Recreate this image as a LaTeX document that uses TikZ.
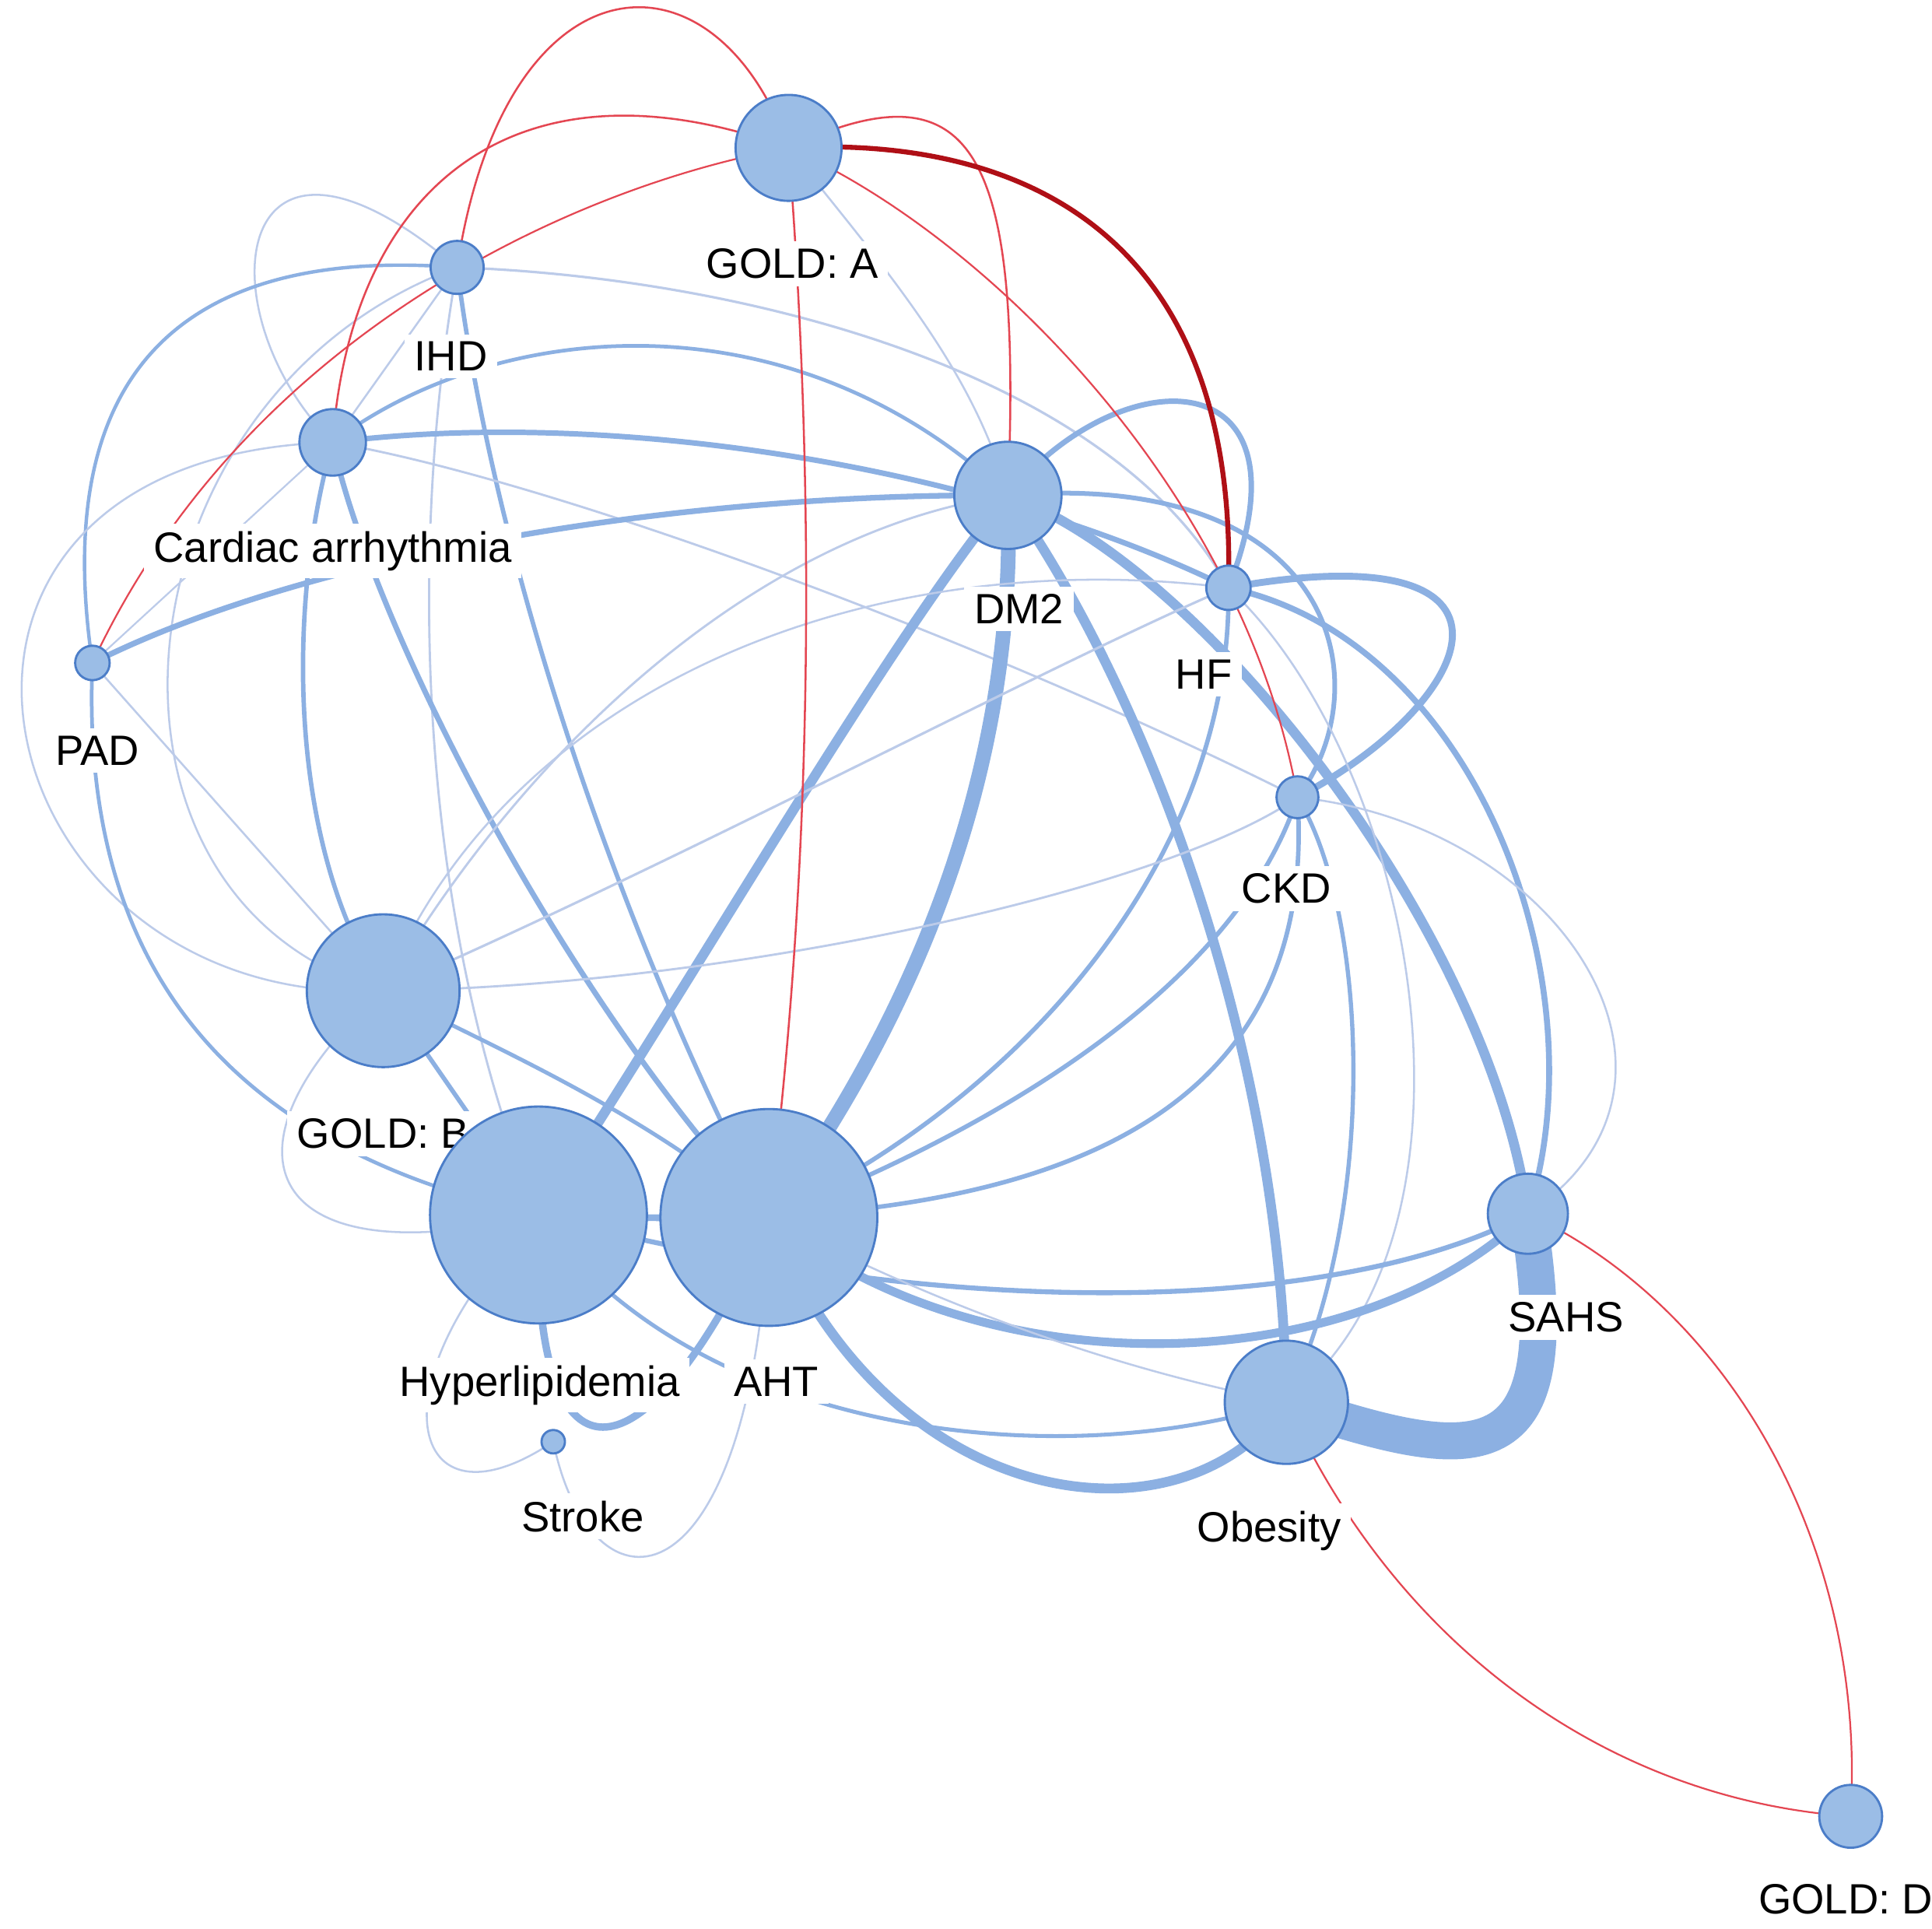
\documentclass[tikz,border=0pt]{standalone}
\usepackage{fontspec}
\setmainfont{Liberation Sans}
\usetikzlibrary{backgrounds}
\pgfdeclarelayer{bg}
\pgfsetlayers{bg,background,main}
\definecolor{nfill}{RGB}{155,189,230}
\definecolor{ndraw}{RGB}{75,125,200}
\definecolor{emain}{RGB}{140,176,226}
\definecolor{elight}{RGB}{188,203,233}
\definecolor{ered}{RGB}{228,70,82}
\definecolor{edark}{RGB}{175,15,22}
\begin{document}
\begin{tikzpicture}[x=0.5pt,y=-0.5pt,
  nd/.style={circle,draw=ndraw,fill=nfill,line width=0.9pt,inner sep=0pt,minimum size=#1},
  lab/.style={fill=white,inner xsep=4pt,inner ysep=3pt,anchor=base,text=black,font=\fontsize{17.2}{20}\selectfont},
  edge/.style={draw=emain,line cap=round,line width=#1},
  ledge/.style={draw=elight,line cap=round,line width=#1},
  redge/.style={draw=ered,line cap=round,line width=#1}]
\begin{pgfonlayer}{bg}
\fill[white] (0,0) rectangle (1568,1565);
\end{pgfonlayer}
\useasboundingbox (0,0) rectangle (1568,1565);
% labels
\node[lab] (lA) at (643,226) {GOLD: A};
\node[lab] (lIHD) at (366,301) {IHD};
\node[lab] (lCA) at (270,456) {Cardiac arrhythmia};
\node[lab] (lDM2) at (827,506) {DM2};
\node[lab] (lHF) at (977,559) {HF};
\node[lab] (lPAD) at (79,621) {PAD};
\node[lab] (lCKD) at (1044,733) {CKD};
\node[lab] (lB) at (311,932) {GOLD: B};
\node[lab] (lHL) at (438,1133) {Hyperlipidemia};
\node[lab] (lAHT) at (630,1133) {AHT};
\node[lab] (lSAHS) at (1271,1081) {SAHS};
\node[lab] (lOB) at (1030,1251) {Obesity};
\node[lab] (lST) at (473,1243) {Stroke};
\node[lab] (lD) at (1498,1553) {GOLD: D};
% nodes
\node[nd=43pt] (A) at (640,120) {};
\node[nd=21.5pt] (IHD) at (371,217) {};
\node[nd=27pt] (CA) at (270,359) {};
\node[nd=43.5pt] (DM2) at (818,402) {};
\node[nd=18pt] (HF) at (997,477) {};
\node[nd=14pt] (PAD) at (75,538) {};
\node[nd=17pt] (CKD) at (1053,647) {};
\node[nd=62pt] (B) at (311,804) {};
\node[nd=88pt] (HL) at (437,986) {};
\node[nd=88pt] (AHT) at (624,988) {};
\node[nd=32.5pt] (SAHS) at (1240,985) {};
\node[nd=50pt] (OB) at (1044,1138) {};
\node[nd=9.5pt] (ST) at (449,1170) {};
\node[nd=25.5pt] (D) at (1502,1474) {};
% edges
\begin{scope}[on background layer]
\draw[ledge=0.8pt] (IHD.center) .. controls (185,60) and (165,255) .. (CA.center);
\draw[ledge=0.8pt] (IHD.center) -- (CA.center);
\draw[edge=1.4pt] (IHD.center) .. controls (150,200) and (40,300) .. (PAD.center);
\draw[ledge=0.9pt] (IHD.center) .. controls (330,450) and (340,750) .. (HL.center);
\draw[edge=1.8pt] (IHD.center) .. controls (400,450) and (500,750) .. (AHT.center);
\draw[ledge=1.0pt] (IHD.center) .. controls (600,225) and (900,300) .. (HF.center);
\draw[ledge=0.8pt] (IHD.center) .. controls (90,320) and (50,730) .. (B.center);
\draw[edge=2.2pt] (CA.center) .. controls (500,330) and (800,380) .. (HF.center);
\draw[edge=1.5pt] (CA.center) .. controls (400,260) and (640,235) .. (DM2.center);
\draw[edge=1.8pt] (CA.center) .. controls (235,480) and (230,680) .. (B.center);
\draw[edge=2.2pt] (CA.center) .. controls (300,500) and (450,800) .. (AHT.center);
\draw[ledge=0.9pt] (CA.center) .. controls (450,390) and (800,520) .. (CKD.center);
\draw[ledge=0.8pt] (CA.center) .. controls (-120,370) and (-20,820) .. (B.center);
\draw[ledge=0.7pt] (CA.center) -- (PAD.center);
\draw[edge=2.3pt] (PAD.center) .. controls (250,450) and (550,400) .. (DM2.center);
\draw[edge=1.5pt] (PAD.center) .. controls (65,780) and (180,930) .. (HL.center);
\draw[ledge=0.8pt] (PAD.center) -- (B.center);
\draw[edge=4pt] (DM2.center) .. controls (720,520) and (560,800) .. (HL.center);
\draw[edge=6pt] (DM2.center) .. controls (825,600) and (760,800) .. (AHT.center);
\draw[edge=4pt] (DM2.center) .. controls (930,560) and (1040,850) .. (OB.center);
\draw[edge=2.2pt] (DM2.center) .. controls (910,290) and (1070,290) .. (HF.center);
\draw[edge=4pt] (DM2.center) .. controls (980,460) and (1210,760) .. (SAHS.center);
\draw[edge=1.9pt] (DM2.center) .. controls (1090,380) and (1120,560) .. (CKD.center);
\draw[ledge=0.8pt] (A.center) .. controls (720,220) and (790,300) .. (DM2.center);
\draw[ledge=0.9pt] (B.center) .. controls (430,600) and (620,430) .. (DM2.center);
\draw[edge=2.8pt] (HF.center) .. controls (1260,430) and (1200,570) .. (CKD.center);
\draw[edge=2.4pt] (HF.center) .. controls (1200,520) and (1300,800) .. (SAHS.center);
\draw[edge=1.8pt] (HF.center) .. controls (1000,680) and (850,880) .. (AHT.center);
\draw[ledge=1.0pt] (B.center) .. controls (550,700) and (850,540) .. (HF.center);
\draw[ledge=0.8pt] (B.center) .. controls (410,560) and (700,440) .. (HF.center);
\draw[ledge=0.8pt] (HF.center) .. controls (1150,620) and (1220,1000) .. (OB.center);
\draw[edge=1.8pt] (CKD.center) .. controls (1010,780) and (850,900) .. (AHT.center);
\draw[edge=1.8pt] (CKD.center) .. controls (1070,900) and (870,1010) .. (HL.center);
\draw[ledge=0.9pt] (CKD.center) .. controls (950,720) and (600,800) .. (B.center);
\draw[ledge=0.8pt] (CKD.center) .. controls (1270,670) and (1400,880) .. (SAHS.center);
\draw[edge=1.7pt] (CKD.center) .. controls (1110,740) and (1120,980) .. (OB.center);
\draw[edge=3.5pt] (AHT.center) .. controls (800,1130) and (1100,1120) .. (SAHS.center);
\draw[edge=2pt] (HL.center) .. controls (800,1080) and (1100,1060) .. (SAHS.center);
\draw[edge=4pt] (AHT.center) .. controls (720,1230) and (960,1260) .. (OB.center);
\draw[ledge=0.8pt] (AHT.center) .. controls (800,1080) and (950,1120) .. (OB.center);
\draw[edge=1.6pt] (HL.center) .. controls (560,1160) and (850,1200) .. (OB.center);
\draw[edge=1.5pt] (HL.center) -- (AHT.center);
\draw[edge=3pt] (HL.center) .. controls (430,1230) and (530,1200) .. (AHT.center);
\draw[ledge=0.8pt] (ST.center) .. controls (330,1250) and (300,1120) .. (HL.center);
\draw[ledge=0.8pt] (ST.center) .. controls (480,1320) and (610,1310) .. (AHT.center);
\draw[ledge=0.8pt] (B.center) .. controls (170,930) and (210,1040) .. (HL.center);
\draw[edge=1.8pt] (B.center) -- (HL.center);
\draw[edge=1.6pt] (B.center) .. controls (400,850) and (520,900) .. (AHT.center);
\draw[edge=15pt] (OB.center) .. controls (1200,1190) and (1275,1200) .. (SAHS.center);
% red edges
\draw[redge=0.8pt] (IHD.center) .. controls (410,-40) and (580,-50) .. (A.center);
\draw[redge=0.8pt] (CA.center) .. controls (285,150) and (420,40) .. (A.center);
\draw[redge=0.7pt] (A.center) .. controls (470,150) and (200,270) .. (PAD.center);
\draw[redge=0.8pt] (A.center) .. controls (790,50) and (830,120) .. (DM2.center);
\draw[redge=0.7pt] (A.center) .. controls (800,190) and (1010,400) .. (CKD.center);
\draw[redge=0.8pt] (A.center) .. controls (662,400) and (660,700) .. (AHT.center);
\draw[draw=edark,line cap=round,line width=2pt] (A.center) .. controls (830,110) and (1005,190) .. (HF.center);
\draw[redge=0.7pt] (SAHS.center) .. controls (1400,1060) and (1515,1250) .. (D.center);
\draw[redge=0.7pt] (OB.center) .. controls (1130,1330) and (1300,1460) .. (D.center);
\end{scope}
\end{tikzpicture}
\end{document}
